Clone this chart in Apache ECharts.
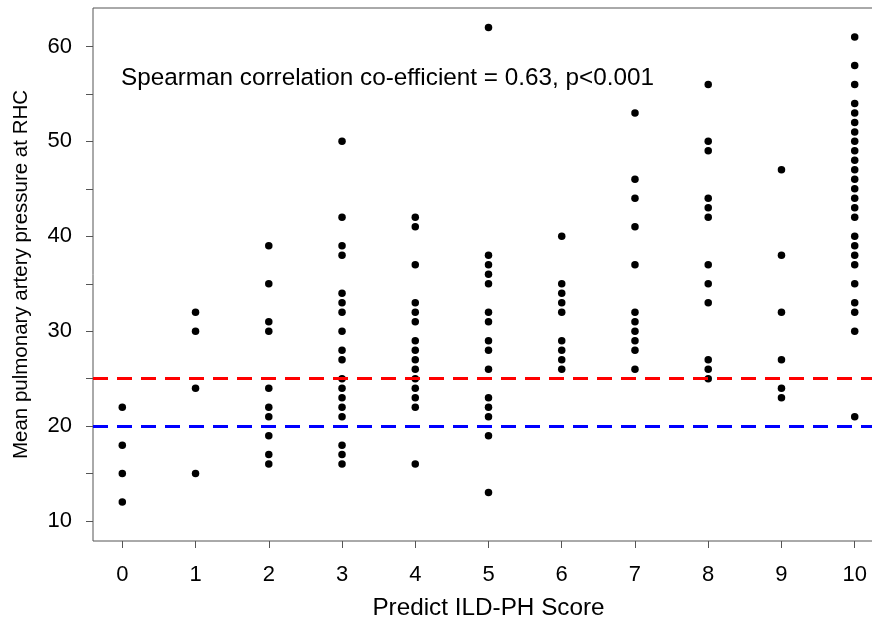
<!DOCTYPE html>
<html>
<head>
<meta charset="utf-8">
<script src="https://cdn.jsdelivr.net/npm/echarts@6/dist/echarts.min.js"></script>
<style>
  html, body { margin: 0; padding: 0; background: #fff; }
  #chart { width: 872px; height: 622px; }
</style>
</head>
<body>
<div id="chart"></div>
<script>
// Predict ILD-PH score (x) and the mPAP values measured at RHC for each score
const scores = [0, 1, 2, 3, 4, 5, 6, 7, 8, 9, 10];
const mpapScore0 = [22, 18, 15, 12];
const mpapScore1 = [32, 30, 24, 15];
const mpapScore2 = [39, 35, 31, 30, 24, 22, 21, 19, 17, 16];
const mpapScore3 = [50, 42, 39, 38, 34, 33, 32, 30, 28, 27, 25, 24, 23, 22, 21, 18, 17, 16];
const mpapScore4 = [42, 41, 37, 33, 32, 31, 29, 28, 27, 26, 25, 24, 23, 22, 16];
const mpapScore5 = [62, 38, 37, 36, 35, 32, 31, 29, 28, 26, 23, 22, 21, 19, 13];
const mpapScore6 = [40, 35, 34, 33, 32, 29, 28, 27, 26];
const mpapScore7 = [53, 46, 44, 41, 37, 32, 31, 30, 29, 28, 26];
const mpapScore8 = [56, 50, 49, 44, 43, 42, 37, 35, 33, 27, 26, 25];
const mpapScore9 = [47, 38, 32, 27, 24, 23];
const mpapScore10 = [61, 58, 56, 54, 53, 52, 51, 50, 49, 48, 47, 46, 45, 44, 43, 42,
                     40, 39, 38, 37, 35, 33, 32, 30, 21];
const mpapByScore = [mpapScore0, mpapScore1, mpapScore2, mpapScore3, mpapScore4, mpapScore5,
                     mpapScore6, mpapScore7, mpapScore8, mpapScore9, mpapScore10];

// Reference thresholds (mmHg)
const thresholdHigh = 25;
const thresholdLow = 20;

// Tick values
const xTickValues = [0, 1, 2, 3, 4, 5, 6, 7, 8, 9, 10];
const yLabelValues = [10, 20, 30, 40, 50, 60];
const yTickValues = [10, 15, 20, 25, 30, 35, 40, 45, 50, 55, 60];

const annotation = 'Spearman correlation co-efficient = 0.63, p<0.001';

const points = [];
scores.forEach((s, i) => {
  mpapByScore[i].forEach(v => points.push([s, v]));
});

const font = '"Liberation Sans", Arial, sans-serif';
const chart = echarts.init(document.getElementById('chart'), null, { renderer: 'canvas' });

chart.setOption({
  animation: false,
  backgroundColor: '#ffffff',
  textStyle: { fontFamily: font },
  title: {
    text: annotation,
    left: 121,
    top: 66,
    padding: 0,
    textStyle: { fontFamily: font, fontSize: 24.3, fontWeight: 'normal', color: '#000' }
  },
  grid: {
    left: 93,
    top: 8,
    width: 791,
    height: 533,
    outerBoundsMode: 'none',
    containLabel: false,
    show: true,
    borderColor: '#555',
    borderWidth: 1,
    backgroundColor: 'transparent'
  },
  xAxis: {
    type: 'value',
    min: -0.4,
    max: 10.4,
    name: 'Predict ILD-PH Score',
    nameLocation: 'middle',
    nameGap: 55,
    nameTextStyle: { fontFamily: font, fontSize: 24.3, color: '#000' },
    axisLine: { show: false, onZero: false },
    splitLine: { show: false },
    axisTick: {
      show: true, inside: false, length: 7,
      customValues: xTickValues,
      lineStyle: { color: '#555', width: 1 }
    },
    axisLabel: {
      customValues: xTickValues,
      margin: 23,
      fontFamily: font, fontSize: 22, color: '#000'
    }
  },
  yAxis: {
    type: 'value',
    min: 7.9,
    max: 64.05,
    name: 'Mean pulmonary artery pressure at RHC',
    nameLocation: 'middle',
    nameGap: 61,
    nameTextStyle: { fontFamily: font, fontSize: 20.5, color: '#000' },
    axisLine: { show: false, onZero: false },
    splitLine: { show: false },
    axisTick: {
      show: true, inside: false, length: 7,
      customValues: yTickValues,
      lineStyle: { color: '#555', width: 1 }
    },
    axisLabel: {
      customValues: yLabelValues,
      margin: 21,
      fontFamily: font, fontSize: 22, color: '#000'
    }
  },
  series: [
    {
      type: 'scatter',
      data: points,
      symbol: 'circle',
      symbolSize: 7.5,
      itemStyle: { color: '#000', opacity: 1 },
      z: 3,
      markLine: {
        silent: true,
        symbol: 'none',
        label: { show: false },
        emphasis: { disabled: true },
        data: [
          { yAxis: thresholdHigh, lineStyle: { color: '#ff0000', width: 3, type: [15, 9], opacity: 1 } },
          { yAxis: thresholdLow, lineStyle: { color: '#0000ff', width: 3, type: [15, 9], opacity: 1 } }
        ]
      }
    }
  ]
});
</script>
</body>
</html>
